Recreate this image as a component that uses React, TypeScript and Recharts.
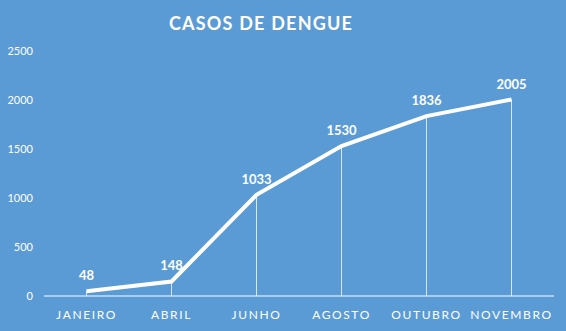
import { ComposedChart, Line, Bar, XAxis, YAxis, LabelList } from 'recharts'

const months = ['JANEIRO', 'ABRIL', 'JUNHO', 'AGOSTO', 'OUTUBRO', 'NOVEMBRO']
const casos = [48, 148, 1033, 1530, 1836, 2005]
const yTicks = [0, 500, 1000, 1500, 2000, 2500]

const data = months.map((mes, i) => ({ mes, casos: casos[i] }))

const FONT = 'Lato, "Open Sans", sans-serif'
const BG = '#5b9bd5'

export default function App() {
  return (
    <div style={{ position: 'absolute', left: 0, top: 0, width: 566, height: 331, background: BG, fontFamily: FONT }}>
      <div
        style={{
          position: 'absolute',
          left: 0,
          width: 522,
          top: 12,
          textAlign: 'center',
          color: '#fff',
          fontWeight: 700,
          fontSize: 18,
          letterSpacing: 1.2,
        }}
      >
        CASOS DE DENGUE
      </div>
      <ComposedChart
        width={566}
        height={331}
        data={data}
        margin={{ top: 51, right: 12, bottom: 5, left: 0 }}
        style={{ position: 'absolute', left: 0, top: 0 }}
      >
        <XAxis
          dataKey="mes"
          height={30}
          tickLine={false}
          axisLine={{ stroke: '#ffffff', strokeWidth: 1 }}
          tickMargin={8}
          tick={{ fill: '#ffffff', fontSize: 12, letterSpacing: 1.6, fontFamily: FONT }}
        />
        <YAxis
          width={44}
          domain={[0, 2500]}
          ticks={yTicks}
          axisLine={false}
          tickLine={false}
          tickMargin={5}
          tick={{ fill: '#ffffff', fontSize: 11, fontFamily: FONT }}
        />
        <Bar dataKey="casos" barSize={1} fill="#ffffff" fillOpacity={0.75} isAnimationActive={false} />
        <Line
          type="linear"
          dataKey="casos"
          stroke="#ffffff"
          strokeWidth={4}
          dot={false}
          activeDot={false}
          isAnimationActive={false}
        >
          <LabelList
            dataKey="casos"
            position="top"
            offset={11}
            fill="#ffffff"
            fontSize={13}
            fontWeight={700}
            fontFamily={FONT}
          />
        </Line>
      </ComposedChart>
    </div>
  )
}
